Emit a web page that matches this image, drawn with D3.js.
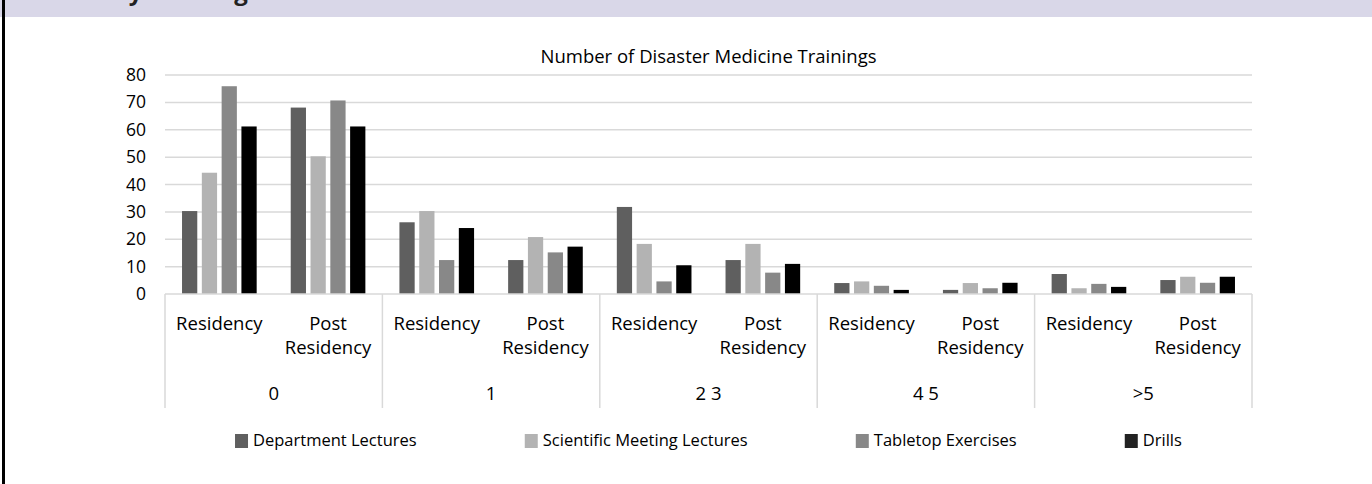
<!DOCTYPE html>
<html>
<head>
<meta charset="utf-8">
<script src="https://cdn.jsdelivr.net/npm/d3@7"></script>
<style>
  html, body { margin: 0; padding: 0; background: #fff; }
  svg { display: block; }
  text { font-family: "Open Sans", "Noto Sans", sans-serif; fill: #000; }
</style>
</head>
<body>
<svg id="chart" width="1372" height="484"></svg>
<script>
// Training frequency categories and the period within each
const groups = ["0", "1", "2 3", "4 5", ">5"];
const periods = ["Residency", "Post Residency"];
const series = ["Department Lectures", "Scientific Meeting Lectures", "Tabletop Exercises", "Drills"];
const seriesColors = ["#5f5f5f", "#b3b3b3", "#888888", "#000000"];

// Values per (group, period), in order: 0/Res, 0/Post, 1/Res, 1/Post, ...
const departmentLectures        = [30.3, 68.1, 26.2, 12.4, 31.8, 12.4, 4.0, 1.5, 7.3, 5.1];
const scientificMeetingLectures = [44.3, 50.3, 30.3, 20.8, 18.3, 18.3, 4.6, 4.0, 2.1, 6.3];
const tabletopExercises         = [75.9, 70.7, 12.4, 15.2, 4.6, 7.8, 3.0, 2.1, 3.7, 4.1];
const drills                    = [61.2, 61.2, 24.1, 17.3, 10.5, 11.0, 1.5, 4.1, 2.6, 6.3];
const yTicks = [0, 10, 20, 30, 40, 50, 60, 70, 80];

const chartTitle = "Number of Disaster Medicine Trainings";
const sectionHeading = "Residency Training";

const seriesValues = [departmentLectures, scientificMeetingLectures, tabletopExercises, drills];

const svg = d3.select("#chart");
const W = 1372, H = 484;

// Section header band (heading runs off the top edge) and left rule
svg.append("rect").attr("x", 0).attr("y", 0).attr("width", W).attr("height", 17).attr("fill", "#d9d7e8");
svg.append("text").attr("x", 22).attr("y", 0)
  .style("font-weight", "bold").style("font-size", "24px").style("fill", "#222")
  .text(sectionHeading);
svg.append("rect").attr("x", 2).attr("y", 0).attr("width", 3).attr("height", H).attr("fill", "#000");

const plot = { left: 165, right: 1252, top: 75, bottom: 294 };

const y = d3.scaleLinear().domain([0, 80]).range([plot.bottom, plot.top]);
const xGroup = d3.scaleBand().domain(groups).range([plot.left, plot.right]).padding(0);
const xPeriod = d3.scaleBand().domain(periods).range([0, xGroup.bandwidth()]).padding(0);
const xSeries = d3.scaleBand().domain(series).range([0, xPeriod.bandwidth()])
  .paddingInner(0.23).paddingOuter(0.86);

const gridColor = "#d9d9d9";

// Title
svg.append("text")
  .attr("x", (plot.left + plot.right) / 2).attr("y", 63)
  .attr("text-anchor", "middle").style("font-size", "18.5px")
  .text(chartTitle);

// Gridlines
svg.append("g").selectAll("line").data(yTicks.filter(d => d > 0)).join("line")
  .attr("x1", plot.left).attr("x2", plot.right)
  .attr("y1", d => y(d)).attr("y2", d => y(d))
  .attr("stroke", gridColor).attr("stroke-width", 1.5);

// Y axis labels
const yAxis = d3.axisLeft(y).tickValues(yTicks).tickSize(0).tickPadding(19);
const yg = svg.append("g").attr("transform", `translate(${plot.left},0)`).call(yAxis);
yg.select(".domain").remove();
yg.selectAll("text").style("font-size", "17.5px").style("font-family", '"Open Sans", sans-serif');

// Bars
const rows = [];
groups.forEach((g, gi) => periods.forEach((p, pi) => {
  series.forEach((s, si) => {
    rows.push({ g, p, s, si, v: seriesValues[si][gi * periods.length + pi] });
  });
}));
svg.append("g").selectAll("rect").data(rows).join("rect")
  .attr("x", d => xGroup(d.g) + xPeriod(d.p) + xSeries(d.s))
  .attr("width", xSeries.bandwidth())
  .attr("y", d => y(d.v))
  .attr("height", d => y(0) - y(d.v))
  .attr("fill", d => seriesColors[d.si]);

// Category axis: baseline and group separators
const axisBottom = 408;
svg.append("line").attr("x1", plot.left).attr("x2", plot.right)
  .attr("y1", plot.bottom).attr("y2", plot.bottom)
  .attr("stroke", gridColor).attr("stroke-width", 1.5);
const seps = groups.map(g => xGroup(g)).concat([plot.right]);
svg.append("g").selectAll("line").data(seps).join("line")
  .attr("x1", d => d).attr("x2", d => d)
  .attr("y1", plot.bottom).attr("y2", axisBottom)
  .attr("stroke", gridColor).attr("stroke-width", 1.5);

// Period labels (wrapped in two lines)
const catFont = "18.5px";
const periodLabels = [];
groups.forEach(g => periods.forEach(p => periodLabels.push({ g, p })));
const pl = svg.append("g").selectAll("text").data(periodLabels).join("text")
  .attr("text-anchor", "middle")
  .attr("x", d => xGroup(d.g) + xPeriod(d.p) + xPeriod.bandwidth() / 2)
  .attr("y", 330)
  .style("font-size", catFont);
pl.each(function (d) {
  const words = d.p.split(" ");
  const t = d3.select(this);
  words.forEach((w, i) => {
    t.append("tspan").attr("x", t.attr("x")).attr("dy", i === 0 ? 0 : 24).text(w);
  });
});

// Group labels
svg.append("g").selectAll("text").data(groups).join("text")
  .attr("text-anchor", "middle")
  .attr("x", d => xGroup(d) + xGroup.bandwidth() / 2)
  .attr("y", 400)
  .style("font-size", catFont)
  .text(d => d);

// Legend, laid out by text width and centred under the plot
const legendFont = "16.5px";
const sw = 13, swGap = 5, itemGap = 108;
const lg = svg.append("g");
const items = lg.selectAll("g").data(series).join("g");
items.append("rect").attr("width", sw).attr("height", 14).attr("y", -12)
  .attr("fill", (d, i) => i === 3 ? "#222" : seriesColors[i]);
items.append("text").attr("x", sw + swGap).attr("y", 0)
  .style("font-size", legendFont).text(d => d);
let cx = 0;
const widths = [];
items.each(function () {
  widths.push(this.getBBox().width);
});
items.attr("transform", (d, i) => {
  const tx = cx;
  cx += widths[i] + itemGap;
  return `translate(${tx},0)`;
});
const totalW = cx - itemGap;
lg.attr("transform", `translate(${(plot.left + plot.right) / 2 - totalW / 2},446)`);
</script>
</body>
</html>
